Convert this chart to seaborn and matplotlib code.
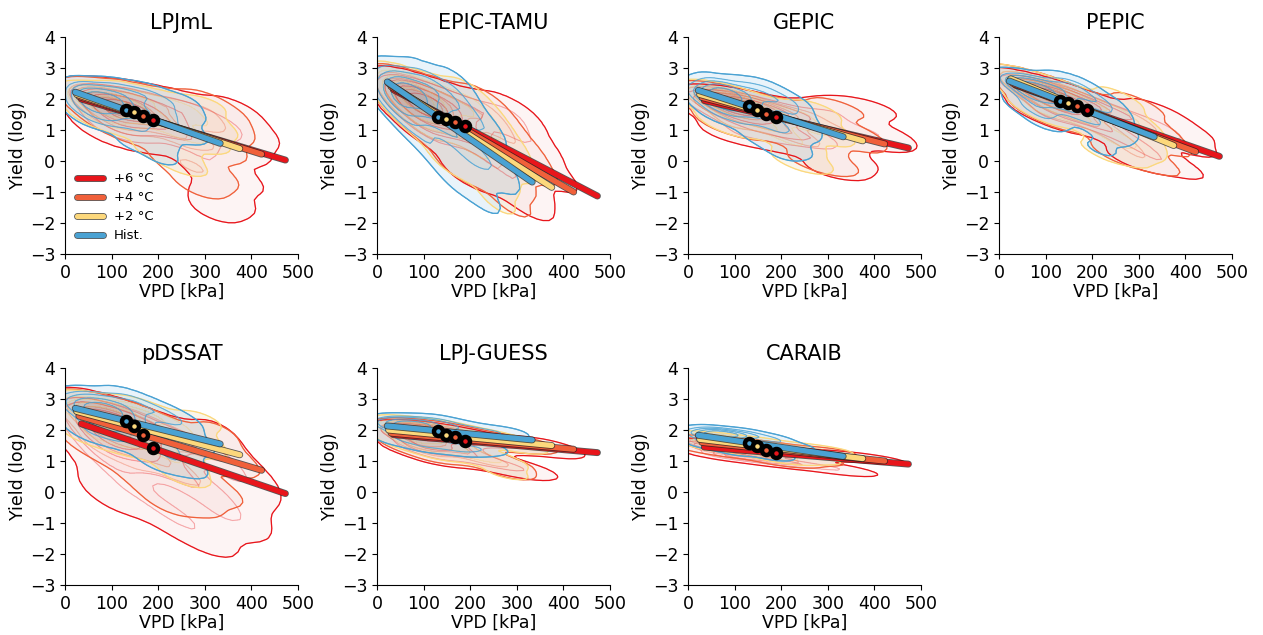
import numpy as np
import pandas as pd
import matplotlib
matplotlib.use("Agg")
import matplotlib.pyplot as plt
import matplotlib.patheffects as pe
import seaborn as sns

plt.rcParams['font.family'] = ['DejaVu Sans']

# ---------------- data ----------------
models = ["LPJmL", "EPIC-TAMU", "GEPIC", "PEPIC", "pDSSAT", "LPJ-GUESS", "CARAIB"]
scenarios = ["+6 °C", "+4 °C", "+2 °C", "Hist."]
colors = ["#e8151b", "#f0603a", "#fcd87c", "#4aa2d3"]

# regression line x-range per scenario (+6, +4, +2, Hist)
line_x0 = [35, 30, 25, 22]
line_x1 = [473, 422, 375, 333]
# regression line y at start / end, per model, per scenario (+6, +4, +2, Hist)
line_y0 = {
    "LPJmL":     [2.00, 2.08, 2.15, 2.22],
    "EPIC-TAMU": [2.30, 2.40, 2.50, 2.55],
    "GEPIC":     [1.95, 2.05, 2.15, 2.28],
    "PEPIC":     [2.45, 2.50, 2.65, 2.58],
    "pDSSAT":    [2.20, 2.45, 2.60, 2.70],
    "LPJ-GUESS": [1.85, 1.90, 2.00, 2.13],
    "CARAIB":    [1.45, 1.60, 1.70, 1.83],
}
line_y1 = {
    "LPJmL":     [0.03, 0.22, 0.40, 0.57],
    "EPIC-TAMU": [-1.13, -1.00, -0.85, -0.68],
    "GEPIC":     [0.42, 0.55, 0.65, 0.78],
    "PEPIC":     [0.15, 0.30, 0.50, 0.78],
    "pDSSAT":    [-0.05, 0.70, 1.20, 1.55],
    "LPJ-GUESS": [1.27, 1.38, 1.50, 1.68],
    "CARAIB":    [0.90, 1.00, 1.08, 1.15],
}
# scenario means (VPD, yield), per scenario (+6, +4, +2, Hist)
mean_vpd = [188, 167, 148, 130]
mean_yield = {
    "LPJmL":     [1.32, 1.45, 1.57, 1.65],
    "EPIC-TAMU": [1.12, 1.25, 1.35, 1.42],
    "GEPIC":     [1.42, 1.53, 1.65, 1.77],
    "PEPIC":     [1.65, 1.77, 1.87, 1.93],
    "pDSSAT":    [1.42, 1.85, 2.12, 2.30],
    "LPJ-GUESS": [1.65, 1.77, 1.85, 1.97],
    "CARAIB":    [1.25, 1.37, 1.47, 1.58],
}

# Representative (VPD, yield, weight) samples of each scenario's cloud
lpjml_h = [(50,2.1,3),(80,2.05,4),(110,1.95,3),(80,1.7,3),(40,1.8,2),(130,1.7,2),(150,2.1,1.5),(110,2.3,1.5),(50,2.35,1),
           (170,1.5,1.5),(160,1.1,1.2),(200,1.9,1),(220,1.4,1),(240,1.0,0.8),(200,0.6,0.8),(210,0.1,0.5),(100,1.3,1.2),(60,1.4,1),(250,1.9,0.6),
           (260,1.5,0.7),(270,0.8,0.5),(180,2.2,0.8),(150,0.6,0.6)]
lpjml_p2 = [(65,1.95,3),(90,1.95,4),(120,1.8,3),(90,1.6,2),(150,1.6,2),(140,2.1,1.5),(180,1.4,1.5),(200,1.9,1.2),(220,1.2,1.2),
            (250,1.7,1),(260,0.8,1),(290,1.3,0.8),(230,0.3,0.8),(260,-0.2,0.5),(300,0.6,0.6),(120,1.2,1.2),(70,1.45,1),
            (300,1.8,0.5),(320,1.0,0.5),(200,0.3,0.5)]
lpjml_p4 = [(75,1.9,3),(100,1.85,4),(135,1.7,3),(100,1.45,2),(160,1.5,2),(150,2.0,1.5),(190,1.3,1.5),(220,1.8,1.2),(230,1.0,1.2),
            (270,1.6,1),(270,0.6,1),(310,1.1,0.8),(270,-0.1,0.8),(290,-0.8,0.6),(330,0.4,0.7),(130,1.1,1.2),(340,1.5,0.5),(320,-0.5,0.5),
            (350,1.0,0.5),(240,0.0,0.5),(300,1.9,0.5)]
lpjml_p6 = [(85,1.8,3),(115,1.75,4),(150,1.6,3),(110,1.3,2),(180,1.45,2),(170,1.9,1.5),(210,1.2,1.5),(250,1.7,1.2),(250,0.9,1.2),
            (290,1.4,1),(290,0.4,1),(340,1.0,0.8),(320,-0.3,0.8),(340,-1.2,0.7),(370,0.4,0.7),(150,0.95,1.2),(360,1.6,0.6),(320,-1.6,0.4),(90,1.05,0.8),
            (400,0.9,0.5),(370,-0.6,0.4)]

epic_h = [(35,2.15,3),(60,2.3,4),(90,2.2,3),(50,1.8,2.5),(120,2.3,1.5),(100,1.7,2),(150,2.0,1.2),(140,1.2,1.5),(80,1.1,1),(190,1.6,1),
          (180,0.7,1.2),(130,0.3,0.8),(230,1.0,0.8),(210,0.0,1),(170,-0.5,0.7),(250,0.0,0.6),(230,-1.2,0.5),(270,-0.6,0.4),(170,2.4,0.7),
          (110,2.45,1.0)]
epic_p2 = [(50,2.15,3),(80,2.15,4),(110,2.0,3),(75,1.65,2.5),(150,2.0,1.5),(130,1.4,2),(190,1.6,1.2),(170,0.9,1.2),(230,1.4,1),(220,0.4,1),
           (160,0.0,0.7),(270,0.6,0.8),(250,-0.5,0.8),(300,-0.2,0.5),(260,-1.3,0.4),(100,1.1,1),(200,2.1,0.6)]
epic_p4 = [(60,2.05,3),(90,2.05,4),(120,1.9,3),(85,1.55,2.5),(160,1.9,1.5),(145,1.3,2),(210,1.5,1.2),(190,0.8,1.2),(250,1.3,1),(240,0.2,1),
           (180,-0.2,0.7),(300,0.5,0.8),(280,-0.6,0.8),(340,-0.3,0.5),(290,-1.4,0.4),(110,1.0,1),(230,1.9,0.6)]
epic_p6 = [(70,1.95,3),(100,1.95,4),(130,1.8,3),(95,1.45,2.5),(170,1.8,1.5),(160,1.2,2),(230,1.5,1.2),(210,0.7,1.2),(280,1.3,1),(260,0.0,1),
           (200,-0.4,0.7),(330,0.5,0.8),(310,-0.8,0.8),(380,-0.5,0.5),(330,-1.5,0.4),(120,0.9,1),(290,1.6,0.6)]

gepic_h = [(40,2.1,3),(70,2.2,4),(100,2.15,3),(80,1.85,3),(130,2.3,1.5),(130,1.8,2),(170,2.0,1.2),(160,1.4,1.5),(110,1.4,1.2),
           (210,1.8,1),(200,1.0,1),(240,1.3,0.8),(230,0.4,0.6),(60,1.6,1),
           (170,2.3,0.8),(220,1.9,0.6),(250,0.9,0.5),(200,0.3,0.5),(150,0.8,0.6),(70,2.4,1)]
gepic_p2 = [(55,1.95,3),(85,1.95,4),(120,1.85,3),(90,1.55,2),(150,1.75,1.5),(140,1.3,1.5),(190,1.5,1.2),(190,1.0,1.2),(240,1.5,1),
            (230,0.6,1),(270,1.0,0.8),(260,0.0,0.5),(300,0.9,0.6),(85,1.2,1),(280,1.6,0.5),(230,0.0,0.5)]
gepic_p4 = [(65,1.9,3),(95,1.9,4),(130,1.8,3),(100,1.5,2),(165,1.7,1.5),(160,1.25,1.5),(210,1.45,1.2),(210,0.95,1.2),(260,1.5,1),
            (260,0.6,1),(300,1.0,0.8),(300,0.0,0.5),(350,0.9,0.6),(95,1.15,1),(320,1.7,0.5),(280,-0.1,0.5),(360,0.6,0.4)]
gepic_p6 = [(75,1.8,3),(105,1.8,4),(140,1.7,3),(110,1.4,2),(180,1.6,1.5),(170,1.1,1.5),(230,1.4,1.2),(230,0.85,1.2),(290,1.5,1),
            (290,0.6,1),(340,1.0,0.8),(340,0.0,0.5),(400,0.9,0.6),(110,0.9,0.9),(330,1.7,0.5),
            (380,1.7,0.5),(320,-0.3,0.5),(420,0.6,0.4),(200,0.6,0.6)]

pepic_h = [(45,2.45,3),(75,2.4,4),(105,2.3,3),(80,2.1,3),(140,2.45,1.5),(130,2.0,2),(170,2.2,1.2),(160,1.6,1.5),(100,1.6,1.2),
           (210,1.9,1),(200,1.3,1),(240,1.5,0.8),(240,0.8,0.6),(60,1.8,1),
           (170,2.4,0.8),(220,1.9,0.6),(260,1.0,0.5),(220,0.4,0.4),(100,1.3,0.7)]
pepic_p2 = [(60,2.35,3),(90,2.3,4),(125,2.15,3),(100,1.9,2),(160,2.05,1.5),(150,1.6,1.5),(200,1.8,1.2),(200,1.2,1.2),(250,1.6,1),
            (250,0.7,1),(290,1.2,0.8),(270,0.2,0.5),(300,0.7,0.6),(85,1.65,1),(260,2.0,0.5),(300,0.4,0.4),(220,0.3,0.4)]
pepic_p4 = [(70,2.3,3),(100,2.25,4),(135,2.1,3),(110,1.85,2),(170,2.0,1.5),(160,1.5,1.5),(210,1.7,1.2),(220,1.1,1.2),(270,1.5,1),
            (270,0.6,1),(320,1.1,0.8),(300,0.1,0.5),(350,0.6,0.6),(95,1.55,1),(300,1.8,0.5),(330,0.0,0.4),(250,0.2,0.4)]
pepic_p6 = [(80,2.2,3),(110,2.15,4),(150,2.0,3),(120,1.75,2),(185,1.9,1.5),(175,1.4,1.5),(230,1.6,1.2),(240,1.0,1.2),(290,1.4,1),
            (300,0.5,1),(350,1.0,0.8),(340,0.0,0.5),(390,0.6,0.6),(105,1.45,1),(340,1.6,0.5),(370,-0.1,0.4),(290,0.0,0.4),(400,1.0,0.4)]

pdssat_h = [(40,2.7,3),(75,2.75,4),(110,2.7,3),(80,2.4,3),(140,2.9,1.5),(140,2.3,2),(190,2.6,1.2),(180,1.8,1.5),(110,1.8,1.2),
            (240,2.3,1),(230,1.3,1),(270,1.6,0.8),(260,0.8,0.6),(50,2.0,1),(200,1.0,0.7)]
pdssat_p2 = [(45,2.6,3),(80,2.6,4),(120,2.5,3),(90,2.2,3),(160,2.6,1.5),(150,2.0,2),(200,2.3,1.2),(200,1.5,1.5),(120,1.6,1.2),
             (250,2.0,1),(240,1.0,1),(290,1.5,0.8),(260,0.5,0.6),(50,1.9,1),(290,2.3,0.5)]
pdssat_p4 = [(50,2.4,3),(90,2.35,4),(130,2.2,3),(100,1.9,3),(170,2.2,1.5),(160,1.5,2),(220,1.8,1.2),(210,1.0,1.5),(120,1.2,1.2),
             (270,1.6,1),(260,0.5,1),(320,1.2,0.8),(280,-0.3,0.6),(60,1.6,1),(330,1.9,0.4),(180,0.4,0.8),
             (330,0.0,0.5),(360,1.0,0.5),(220,-0.3,0.5)]
pdssat_p6 = [(55,2.2,3),(100,2.1,4),(140,1.95,3),(100,1.6,3),(180,1.9,1.5),(170,1.2,2),(240,1.6,1.2),(240,0.6,1.5),(130,0.6,1.2),
             (300,1.3,1),(300,0.0,1),(360,0.8,0.8),(350,-0.8,0.8),(200,-0.4,1),(260,-1.0,0.8),(310,-1.5,0.5),(70,1.3,1),(380,0.0,0.5),(330,1.9,0.4),
             (370,-0.7,0.5),(400,0.3,0.4),(100,0.0,0.8)]

guess_h = [(40,2.15,3),(70,2.2,4),(100,2.15,3),(80,1.9,3),(130,2.25,1.5),(140,1.85,2),(190,2.05,1.2),(180,1.4,1.5),(110,1.5,1.2),
           (240,1.9,1),(230,1.4,0.8),(280,1.9,0.6),(50,1.7,1)]
guess_p2 = [(55,2.0,3),(85,2.05,4),(120,1.95,3),(90,1.7,3),(160,2.0,1.5),(160,1.55,2),(210,1.8,1.2),(210,1.2,1.5),(130,1.3,1.2),
            (260,1.7,1),(260,1.0,1),(310,1.5,0.8),(280,0.6,0.5),(65,1.6,1)]
guess_p4 = [(60,1.9,3),(95,1.95,4),(130,1.9,3),(100,1.6,3),(170,1.9,1.5),(170,1.45,2),(220,1.7,1.2),(220,1.1,1.5),(130,1.2,1.2),
            (270,1.6,1),(270,0.9,1),(330,1.5,0.8),(290,0.6,0.5),(75,1.5,1)]
guess_p6 = [(70,1.85,3),(105,1.9,4),(140,1.8,3),(110,1.5,3),(180,1.8,1.5),(180,1.35,2),(230,1.6,1.2),(230,1.0,1.5),(140,1.1,1.2),
            (290,1.5,1),(290,0.8,1),(350,1.5,0.8),(330,0.6,0.5),(390,1.3,0.5),(85,1.4,1)]

caraib_h = [(35,1.85,3),(65,1.9,4),(95,1.85,3),(70,1.65,3),(130,1.85,1.5),(130,1.5,2),(180,1.7,1.2),(180,1.2,1.2),(100,1.35,1),
            (230,1.45,0.8),(40,1.55,1)]
caraib_p2 = [(45,1.7,3),(80,1.7,4),(115,1.6,3),(90,1.45,3),(160,1.6,1.5),(160,1.25,2),(210,1.45,1.2),(210,1.05,1.2),(260,1.4,1),
             (270,1.05,0.8),(300,1.35,0.6),(60,1.45,1)]
caraib_p4 = [(45,1.6,3),(85,1.55,4),(120,1.5,3),(90,1.3,3),(165,1.5,1.5),(165,1.15,2),(215,1.35,1.2),(215,0.95,1.2),(265,1.3,1),
             (275,1.0,0.8),(305,1.3,0.6),(40,1.4,1)]
caraib_p6 = [(60,1.45,3),(100,1.45,4),(140,1.35,3),(110,1.15,3),(180,1.35,1.5),(180,1.0,2),(230,1.2,1.2),(230,0.9,1.2),(280,1.2,1),
             (300,0.8,1),(350,1.15,0.8),(340,0.65,0.6),(400,1.05,0.6),(80,1.2,1)]

clouds = {
    "LPJmL": [lpjml_p6, lpjml_p4, lpjml_p2, lpjml_h],
    "EPIC-TAMU": [epic_p6, epic_p4, epic_p2, epic_h],
    "GEPIC": [gepic_p6, gepic_p4, gepic_p2, gepic_h],
    "PEPIC": [pepic_p6, pepic_p4, pepic_p2, pepic_h],
    "pDSSAT": [pdssat_p6, pdssat_p4, pdssat_p2, pdssat_h],
    "LPJ-GUESS": [guess_p6, guess_p4, guess_p2, guess_h],
    "CARAIB": [caraib_p6, caraib_p4, caraib_p2, caraib_h],
}

x_ticks = [0, 100, 200, 300, 400, 500]
y_ticks = [-3, -2, -1, 0, 1, 2, 3, 4]

# ---------------- figure ----------------
W, H = 12.63, 6.35
fig = plt.figure(figsize=(W, H), dpi=100)
lefts = [65, 377, 688, 999]
tops = [37, 368]
aw, ah = 233, 217
kde_kw = dict(x="vpd", y="yld", weights="w", bw_adjust=0.75, gridsize=45)
TH = 0.03

for i, m in enumerate(models):
    r, c = divmod(i, 4)
    ax = fig.add_axes([lefts[c] / 1263, 1 - (tops[r] + ah) / 635, aw / 1263, ah / 635])
    for k in range(4):
        df = pd.DataFrame(clouds[m][k], columns=["vpd", "yld", "w"])
        sns.kdeplot(data=df, fill=True, levels=6, thresh=TH, color=colors[k],
                    alpha=0.2 if k == 3 else 0.13, ax=ax, **kde_kw)
        sns.kdeplot(data=df, fill=False, levels=6, thresh=TH, color=colors[k],
                    linewidths=0.8, alpha=0.8 if k == 3 else 0.3, ax=ax, **kde_kw)
        sns.kdeplot(data=df, fill=False, levels=[TH], color=colors[k],
                    linewidths=0.9, alpha=1.0, ax=ax, **kde_kw)
    for k in range(4):
        ax.plot([line_x0[k], line_x1[k]], [line_y0[m][k], line_y1[m][k]],
                color=colors[k], lw=3.8, solid_capstyle='round', zorder=5 + k,
                label=scenarios[k],
                path_effects=[pe.Stroke(linewidth=5.0, foreground='#222222', alpha=0.75),
                              pe.Normal()])
    for k in [3, 2, 1, 0]:
        ax.plot(mean_vpd[k], mean_yield[m][k], marker='o', ms=6.5, mew=3.2,
                mec='black', mfc=colors[k], ls='none', zorder=12)
    ax.set_xlim(0, 500)
    ax.set_ylim(-3, 4)
    ax.set_xticks(x_ticks)
    ax.set_yticks(y_ticks)
    ax.tick_params(labelsize=12.5)
    ax.set_xlabel("VPD [kPa]", fontsize=12.5, labelpad=1)
    ax.set_ylabel("Yield (log)", fontsize=12.5, labelpad=2)
    ax.set_title(m, fontsize=15, pad=6)
    sns.despine(ax=ax)
    if i == 0:
        ax.legend(loc="lower left", bbox_to_anchor=(0.0, 0.0), frameon=False,
                  fontsize=9.5, handlelength=2.0, labelspacing=0.45, handletextpad=0.8)

fig.savefig("out.png", dpi=100)
